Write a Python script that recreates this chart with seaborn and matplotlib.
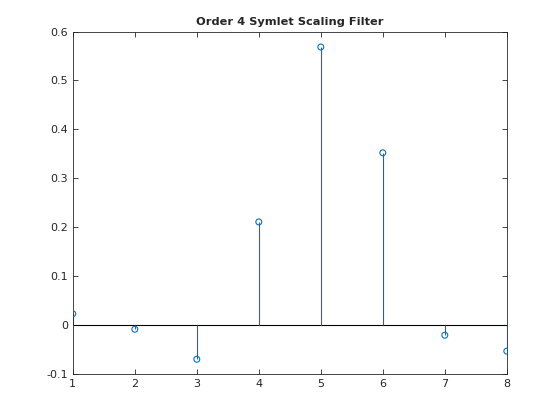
import numpy as np
import pandas as pd
import matplotlib
matplotlib.use("Agg")
import matplotlib.pyplot as plt
import seaborn as sns

# sym4 scaling filter coefficients
taps = [1, 2, 3, 4, 5, 6, 7, 8]
coefs = [0.0228, -0.0089, -0.0702, 0.2106, 0.5683, 0.3519, -0.0210, -0.0536]
y_ticks = [-0.1, 0, 0.1, 0.2, 0.3, 0.4, 0.5, 0.6]

df = pd.DataFrame({"n": taps, "h": coefs})
blue = "#0072BD"

sns.set_style("ticks")
plt.rcParams["font.family"] = ["DejaVu Sans"]

fig = plt.figure(figsize=(5.6, 4.2), dpi=100)
ax = fig.add_axes([0.13, 0.11, 0.775, 0.815])

ax.axhline(0, color="black", lw=0.8, zorder=1)
ax.vlines(df["n"], 0, df["h"], color=blue, lw=0.8, zorder=2)
sns.scatterplot(data=df, x="n", y="h", ax=ax, marker="o", s=18,
                facecolor="none", edgecolor=blue, linewidth=0.8, zorder=3)

ax.set_xlim(1, 8)
ax.set_ylim(-0.1, 0.6)
ax.set_xticks(taps)
ax.set_yticks(y_ticks)
ax.set_yticklabels(["-0.1", "0", "0.1", "0.2", "0.3", "0.4", "0.5", "0.6"])
ax.set_xlabel("")
ax.set_ylabel("")
ax.set_title("Order 4 Symlet Scaling Filter", fontsize=8.2, weight="bold", pad=5)

ax.tick_params(direction="in", top=True, right=True, labelsize=8,
               length=3.5, width=0.6, colors="#262626", labelcolor="#262626")
for s in ax.spines.values():
    s.set_visible(True)
    s.set_linewidth(0.6)
    s.set_color("#262626")

fig.savefig("out.png", dpi=100)
